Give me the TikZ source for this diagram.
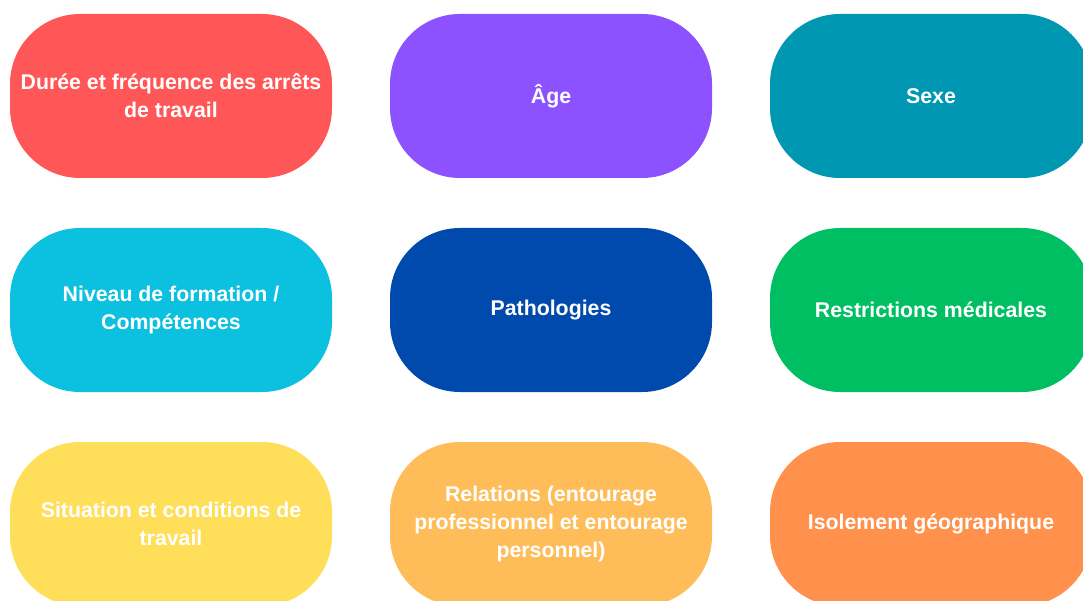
\documentclass[tikz,border=0pt]{standalone}
\usepackage{fontspec}
\setmainfont{Liberation Sans}
\usetikzlibrary{positioning}
\definecolor{redcolor}{HTML}{FF5757}
\definecolor{purplecolor}{HTML}{8C52FF}
\definecolor{tealcolor}{HTML}{0097B2}
\definecolor{cyancolor}{HTML}{0CC0DF}
\definecolor{navycolor}{HTML}{004AAD}
\definecolor{greencolor}{HTML}{00BF63}
\definecolor{yellowcolor}{HTML}{FFDE59}
\definecolor{peachcolor}{HTML}{FFBD59}
\definecolor{orangecolor}{HTML}{FF914D}
\begin{document}
\begin{tikzpicture}[x=1pt, y=1pt,
    % Styles
    factor/.style={minimum width=322pt, minimum height=164pt, rounded corners=70pt,
        inner sep=0, outer sep=0, align=center, text=white,
        font=\fontsize{21.3}{28}\selectfont\bfseries},
    col gap/.style={right=58pt of #1},
    row gap/.style={below=50pt of #1},
]
    \useasboundingbox (0,0) rectangle (1083,-601);
    \clip (0,0) rectangle (1083,-601);

    % === Row 1 ===
    \node[factor, fill=redcolor, anchor=north west] (duree) at (10,-14)
        {Durée et fréquence des arrêts\\de travail};
    \node[factor, fill=purplecolor, col gap=duree] (age) {Âge};
    \node[factor, fill=tealcolor, col gap=age] (sexe) {Sexe};

    % === Row 2 ===
    \node[factor, fill=cyancolor, row gap=duree] (formation)
        {Niveau de formation /\\Compétences};
    \node[factor, fill=navycolor, col gap=formation] (patho) {Pathologies};
    \node[factor, fill=greencolor, col gap=patho] (restrict) {Restrictions médicales};

    % === Row 3 ===
    \node[factor, fill=yellowcolor, row gap=formation] (situation)
        {Situation et conditions de\\travail};
    \node[factor, fill=peachcolor, col gap=situation] (relations)
        {Relations (entourage\\professionnel et entourage\\personnel)};
    \node[factor, fill=orangecolor, col gap=relations] (isolement) {Isolement géographique};
\end{tikzpicture}
\end{document}
